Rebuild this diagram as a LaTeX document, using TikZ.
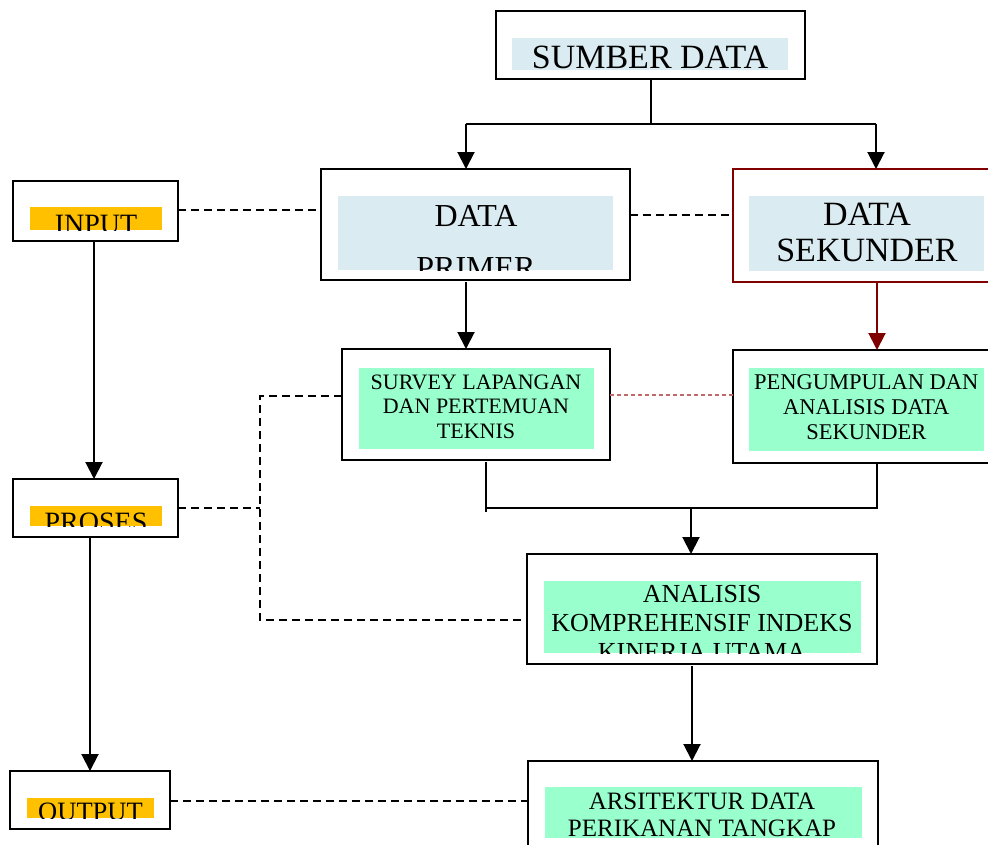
\documentclass[tikz,border=0pt]{standalone}
\usepackage{fontspec}
\setmainfont{Liberation Serif}
\usetikzlibrary{arrows.meta,calc}
\definecolor{lblue}{RGB}{218,236,242}
\definecolor{lgreen}{RGB}{153,255,204}
\definecolor{gold}{RGB}{255,192,0}
\definecolor{dred}{RGB}{128,0,0}
\definecolor{pred}{RGB}{192,105,105}
\newcommand\fsz[1]{\fontsize{#1}{#1}\selectfont}
\begin{document}
\begin{tikzpicture}[x=1pt,y=-1pt,
  box/.style={draw=black,line width=2pt,inner sep=0pt,outer sep=0pt,rectangle},
  arr/.style={line width=2pt,-{Triangle[length=17pt,width=17pt]}},
  conn/.style={line width=2pt},
  dsh/.style={line width=2pt,dash pattern=on 8pt off 5pt},
  reddot/.style={line width=1.4pt,pred,dash pattern=on 4pt off 3pt},
  lbl/.style={anchor=base,inner sep=0pt,outer sep=0pt}]
\useasboundingbox (0,0) rectangle (988,844);
\clip (0,0) rectangle (988,844);

% boxes
\node[box,minimum width=309pt,minimum height=68pt] (sumber) at (650.5,45) {};
\node[box,minimum width=309pt,minimum height=111pt] (primer) at (475.5,224.5) {};
\node[box,draw=dred,minimum width=267pt,minimum height=113pt] (sek) at (866.5,225.5) {};
\node[box,minimum width=165pt,minimum height=60pt] (input) at (95.5,211) {};
\node[box,minimum width=165pt,minimum height=58pt] (proses) at (95.5,508) {};
\node[box,minimum width=160pt,minimum height=58pt] (output) at (90,800) {};
\node[box,minimum width=268pt,minimum height=111pt] (survey) at (476,404.5) {};
\node[box,minimum width=267pt,minimum height=113pt] (peng) at (866.5,406.5) {};
\node[box,minimum width=350pt,minimum height=110pt] (anal) at (702,609) {};
\node[box,minimum width=350pt,minimum height=139pt] (arsi) at (703,830.5) {};

% SUMBER DATA
\fill[lblue] (512,38) rectangle (788,70);
\begin{scope}\clip (512,38) rectangle (788,70);
\node[lbl,font=\fsz{34}] (t1) at (650,68.3) {SUMBER DATA};
\end{scope}

% DATA PRIMER
\fill[lblue] (338,196) rectangle (613,270);
\begin{scope}\clip (338,196) rectangle (613,270);
\node[lbl,font=\fsz{32}] (t2a) at (476,226) {DATA};
\node[lbl,font=\fsz{32}] (t2b) at (476,278) {PRIMER};
\end{scope}

% DATA SEKUNDER
\fill[lblue] (749,196) rectangle (984,271);
\begin{scope}\clip (749,196) rectangle (984,271);
\node[lbl,font=\fsz{34}] (t3a) at (867,225) {DATA};
\node[lbl,font=\fsz{34}] (t3b) at (867,261.7) {SEKUNDER};
\end{scope}

% INPUT
\fill[gold] (30,207) rectangle (162,230);
\begin{scope}\clip (30,207) rectangle (162,230);
\node[lbl,font=\fsz{28}] (t4) at (96,233.5) {INPUT};
\end{scope}

% PROSES
\fill[gold] (30,506) rectangle (162,526);
\begin{scope}\clip (30,506) rectangle (162,526);
\node[lbl,font=\fsz{28}] (t5) at (96,531.2) {PROSES};
\end{scope}

% OUTPUT
\fill[gold] (27,798) rectangle (154,818);
\begin{scope}\clip (27,798) rectangle (154,818);
\node[lbl,font=\fsz{26.5}] (t6) at (90.5,820.8) {OUTPUT};
\end{scope}

% SURVEY
\fill[lgreen] (359,368) rectangle (594,449);
\begin{scope}\clip (359,368) rectangle (594,449);
\node[lbl,font=\fsz{22}] (t7a) at (476,389.3) {SURVEY LAPANGAN};
\node[lbl,font=\fsz{22}] (t7b) at (476,413.3) {DAN PERTEMUAN};
\node[lbl,font=\fsz{22}] (t7c) at (476,438.3) {TEKNIS};
\end{scope}

% PENGUMPULAN
\fill[lgreen] (749,368) rectangle (984,451);
\begin{scope}\clip (749,368) rectangle (984,451);
\node[lbl,font=\fsz{22.5}] (t8a) at (866.3,389.3) {PENGUMPULAN DAN};
\node[lbl,font=\fsz{22.5}] (t8b) at (866.3,414) {ANALISIS DATA};
\node[lbl,font=\fsz{22.5}] (t8c) at (866.3,439.3) {SEKUNDER};
\end{scope}

% ANALISIS
\fill[lgreen] (544,581) rectangle (861,653);
\begin{scope}\clip (544,581) rectangle (861,653);
\node[lbl,font=\fsz{26}] (t9a) at (702,602.7) {ANALISIS};
\node[lbl,font=\fsz{26}] (t9b) at (702,631.7) {KOMPREHENSIF INDEKS};
\node[lbl,font=\fsz{26}] (t9c) at (702,660.5) {KINERJA UTAMA};
\end{scope}

% ARSITEKTUR
\fill[lgreen] (545,787) rectangle (862,838);
\begin{scope}\clip (545,787) rectangle (862,838);
\node[lbl,font=\fsz{25}] (t10a) at (702,809.3) {ARSITEKTUR DATA};
\node[lbl,font=\fsz{25}] (t10b) at (702,836.7) {PERIKANAN TANGKAP};
\end{scope}

% solid connectors
\coordinate (jl) at (466,124);
\coordinate (jr) at (876,124);
\coordinate (j0) at (651,124);
\draw[conn] (sumber.south -| j0) -- (j0);
\draw[conn] (jl) -- (jr);
\draw[arr] (jl) -- (jl |- primer.north);
\draw[arr] (jr) -- (jr |- sek.north);
\coordinate (pa) at (466,282);
\draw[arr] (pa) -- (pa |- survey.north);
\coordinate (sa) at (877,283);
\draw[arr,dred] (sa) -- (sa |- peng.north);
\coordinate (sb) at (486,462);
\coordinate (pb) at (877,464);
\coordinate (jm) at (691,508);
\draw[conn] (sb) -- ($(sb |- jm)+(0,4)$);
\draw[conn] (pb) -- (pb |- jm) -- (sb |- jm);
\draw[arr] (jm) -- (jm |- anal.north);
\coordinate (ab) at (692,666);
\draw[arr] (ab) -- (ab |- arsi.north);
\coordinate (ib) at (94,242);
\draw[arr] (ib) -- (ib |- proses.north);
\coordinate (ob) at (90,538);
\draw[arr] (ob) -- (ob |- output.north);

% dashed connectors
\coordinate (y1) at (0,210);
\draw[dsh] (input.east |- y1) -- (primer.west |- y1);
\coordinate (y2) at (0,215);
\draw[dsh] (primer.east |- y2) -- (sek.west |- y2);
\coordinate (cx) at (260,396);
\coordinate (cy) at (260,620);
\draw[dsh] (survey.west |- cx) -- (cx) -- (cy) -- (anal.west |- cy);
\coordinate (y3) at (260,508);
\draw[dsh] (proses.east |- y3) -- (y3);
\coordinate (y4) at (0,395);
\draw[reddot] (survey.east |- y4) -- (peng.west |- y4);
\coordinate (y5) at (0,801);
\draw[dsh] (output.east |- y5) -- (arsi.west |- y5);
\end{tikzpicture}
\end{document}
